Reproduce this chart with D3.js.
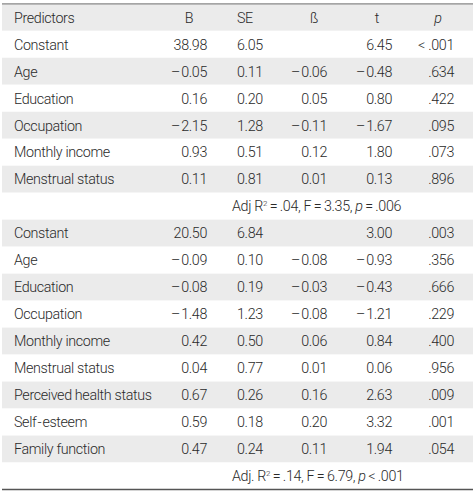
<!DOCTYPE html>
<html><head><meta charset="utf-8">
<script src="https://cdn.jsdelivr.net/npm/d3@7"></script>
<style>html,body{margin:0;padding:0;background:#fff;}</style>
</head><body>
<script>
const headers = ["Predictors","B","SE","ß","t","p"];
const predictors1 = ["Constant","Age","Education","Occupation","Monthly income","Menstrual status"];
const B1 = ["38.98","-0.05","0.16","-2.15","0.93","0.11"];
const SE1 = ["6.05","0.11","0.20","1.28","0.51","0.81"];
const beta1 = ["","-0.06","0.05","-0.11","0.12","0.01"];
const t1 = ["6.45","-0.48","0.80","-1.67","1.80","0.13"];
const p1 = ["< .001",".634",".422",".095",".073",".896"];
const note1 = {adj:"Adj R", r2:".04", F:"3.35", pop:"=", pv:".006"};
const predictors2 = ["Constant","Age","Education","Occupation","Monthly income","Menstrual status","Perceived health status","Self-esteem","Family function"];
const B2 = ["20.50","-0.09","-0.08","-1.48","0.42","0.04","0.67","0.59","0.47"];
const SE2 = ["6.84","0.10","0.19","1.23","0.50","0.77","0.26","0.18","0.24"];
const beta2 = ["","-0.08","-0.03","-0.08","0.06","0.01","0.16","0.20","0.11"];
const t2 = ["3.00","-0.93","-0.43","-1.21","0.84","0.06","2.63","3.32","1.94"];
const p2 = [".003",".356",".666",".229",".400",".956",".009",".001",".054"];
const note2 = {adj:"Adj. R", r2:".14", F:"6.79", pop:"<", pv:".001"};

const W = 475, H = 493;
const svg = d3.select("body").append("svg").attr("width", W).attr("height", H)
  .style("font-family", "Roboto, 'Liberation Sans', sans-serif").style("font-weight", 300);

const rows = [];
rows.push({type:"header"});
predictors1.forEach((d,i)=>rows.push({type:"data", cells:[d,B1[i],SE1[i],beta1[i],t1[i],p1[i]]}));
rows.push({type:"note", note:note1});
predictors2.forEach((d,i)=>rows.push({type:"data", cells:[d,B2[i],SE2[i],beta2[i],t2[i],p2[i]]}));
rows.push({type:"note", note:note2});

const yTop = 3.8, yBot = 489.5;
const y = d3.scaleBand().domain(d3.range(rows.length)).range([yTop, yBot]).paddingInner(0).paddingOuter(0);
const x0 = 2, x1 = 473;

const cols = [[14,"start"],[207,"end"],[237,"start"],[327,"end"],[392,"end"],[454,"end"]];
const headerPos = [[14,"start"],[189,"middle"],[237,"start"],[314,"middle"],[377,"middle"],[438,"middle"]];

const fmt = s => s.replace(/^-/, "\u2013\u200A");

const g = svg.selectAll("g.row").data(rows).join("g").attr("class","row")
  .attr("transform",(d,i)=>`translate(0,${y(i)})`);
g.append("rect").attr("x",x0).attr("width",x1-x0).attr("height",y.bandwidth())
  .attr("fill",(d,i)=> i%2===0 ? "#ebebeb" : "#ffffff");

const fs = 14.3, ls = -0.35, col = "#2a2a2a";
const ty = y.bandwidth()/2 + 5.3;
g.each(function(d,i){
  const s = d3.select(this);
  if (d.type==="header") {
    headers.forEach((h,j)=>{
      const t = s.append("text").attr("x",headerPos[j][0]).attr("y",ty).attr("text-anchor",headerPos[j][1])
        .attr("font-size",fs).attr("letter-spacing",ls).attr("fill",col).text(h);
      if (j===5) t.attr("font-style","italic");
    });
  } else if (d.type==="data") {
    d.cells.forEach((c,j)=>{
      s.append("text").attr("x",cols[j][0]).attr("y",ty).attr("text-anchor",cols[j][1])
        .attr("font-size",fs).attr("letter-spacing",ls).attr("fill",col)
        .text(j===0 ? c.replace("-", "\u200A-\u200A") : fmt(c));
    });
  } else {
    const n = d.note;
    const t = s.append("text").attr("x",232).attr("y",ty).attr("font-size",fs).attr("letter-spacing",ls).attr("fill",col);
    t.append("tspan").text(n.adj);
    t.append("tspan").attr("dy",-5.5).attr("font-size",8).text("2");
    t.append("tspan").attr("dy",5.5).text("\u2009=\u2009" + n.r2 + ", F\u2009=\u2009" + n.F + ", ");
    t.append("tspan").attr("font-style","italic").text("p");
    t.append("tspan").text("\u2009" + n.pop + "\u2009" + n.pv);
  }
});

svg.append("line").attr("x1",x0).attr("x2",x1).attr("y1",yTop).attr("y2",yTop).attr("stroke","#888").attr("stroke-width",1.3);
svg.append("line").attr("x1",x0).attr("x2",x1).attr("y1",yBot).attr("y2",yBot).attr("stroke","#555").attr("stroke-width",1.5);
</script>
</body></html>
